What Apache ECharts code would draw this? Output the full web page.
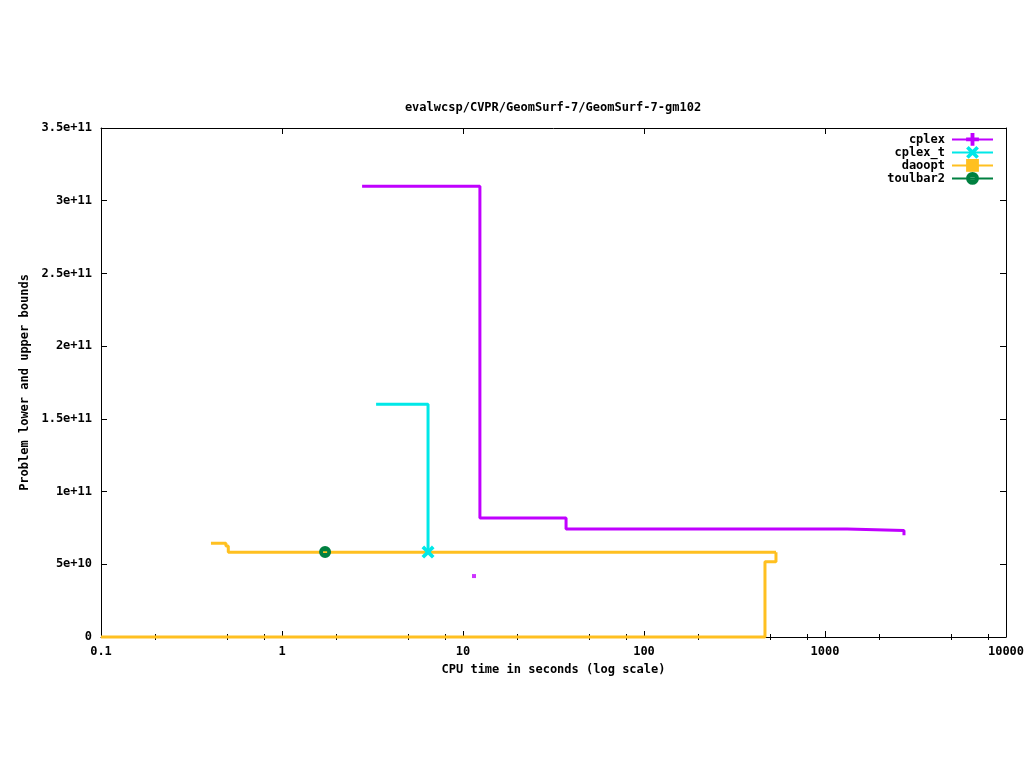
<!DOCTYPE html>
<html>
<head>
<meta charset="utf-8">
<script src="https://cdn.jsdelivr.net/npm/echarts@6/dist/echarts.min.js"></script>
<style>html,body{margin:0;padding:0;background:#fff;overflow:hidden}#c{width:1024px;height:768px}</style>
</head>
<body>
<div id="c"></div>
<script>
// ---- data ----
var titleText = 'evalwcsp/CVPR/GeomSurf-7/GeomSurf-7-gm102';
var xAxisName = 'CPU time in seconds (log scale)';
var yAxisName = 'Problem lower and upper bounds';
var xTickLabels = ['0.1', '1', '10', '100', '1000', '10000'];
var yTickLabels = ['0', '5e+10', '1e+11', '1.5e+11', '2e+11', '2.5e+11', '3e+11', '3.5e+11'];
var xMinorTicks = [0.2, 0.5, 0.8, 2, 5, 8, 20, 50, 80, 200, 500, 800, 2000, 5000, 8000];

var cplexTimes  = [2.77, 12.4, 37.1, 1324, 2731];
var cplexBounds = [3.10e11, 8.18e10, 7.42e10, 7.33e10, 7.0e10];
var cplexLowerTimes  = [11.5];
var cplexLowerBounds = [4.19e10];

var cplexTTimes  = [3.31, 6.41];
var cplexTBounds = [1.60e11, 5.84e10];

var daooptTimes  = [0.405, 0.49, 0.505, 536];
var daooptBounds = [6.44e10, 6.25e10, 5.83e10, 5.83e10];
var daooptLowerTimes  = [0.1, 466, 536];
var daooptLowerBounds = [0, 5.18e10, 5.83e10];

var toulbar2Times  = [1.73];
var toulbar2Bounds = [5.84e10];

// ---- styling ----
var FONT = 'DejaVu Sans Mono';
var colors = {cplex: '#c000ff', cplex_t: '#00e8e8', daoopt: '#ffc020', toulbar2: '#008040'};
var plusPath = 'path://M3.5,0H6.5V3.5H10V6.5H6.5V10H3.5V6.5H0V3.5H3.5Z';
var crossPath = 'path://M0,2L2,0L5,3L8,0L10,2L7,5L10,8L8,10L5,7L2,10L0,8L3,5Z';
var ringPath = 'path://M5,0A5,5,0,1,1,5,10A5,5,0,1,1,5,0ZM3.3,4.3V5.7H6.7V4.3Z';
var LW = 3;

function pairs(xs, ys, markLast) {
  return xs.map(function (x, i) {
    var item = {value: [x, ys[i]]};
    if (!(markLast && i === xs.length - 1)) item.symbol = 'none';
    return item;
  });
}

var chart = echarts.init(document.getElementById('c'), null, {renderer: 'canvas'});
var txt = {fontFamily: FONT, fontSize: 12, fontWeight: 'bold', color: '#000'};

function legendFor(name, top) {
  return {
    data: [name], right: 30, top: top, orient: 'vertical', align: 'right',
    itemWidth: 41, itemHeight: 16, padding: 0,
    textStyle: {fontFamily: FONT, fontSize: 12, fontWeight: 'bold', color: '#000', padding: [0, 2, 0, 0]},
    selectedMode: false
  };
}

var logAxisBase = {type: 'log', logBase: 10, min: 0.1, max: 10000, gridIndex: 0};

chart.setOption({
  animation: false,
  backgroundColor: '#fff',
  graphic: [{
    type: 'text', x: 553, y: 108, silent: true,
    style: {text: titleText, fontFamily: FONT, fontSize: 12, fontWeight: 'bold', fill: '#000',
            textAlign: 'center', textVerticalAlign: 'middle'}
  }],
  legend: [
    legendFor('cplex', 133),
    legendFor('cplex_t', 146),
    legendFor('daoopt', 159),
    legendFor('toulbar2', 172)
  ],
  grid: {left: 101, right: 18, top: 128, bottom: 131, containLabel: false, outerBoundsMode: 'none'},
  xAxis: [
    Object.assign({}, logAxisBase, {
      position: 'bottom',
      name: xAxisName, nameLocation: 'middle', nameGap: 27,
      nameTextStyle: txt,
      axisLine: {show: true, onZero: false, lineStyle: {color: '#000', width: 1}},
      axisTick: {show: true, inside: true, length: 6, lineStyle: {color: '#000'}},
      axisLabel: Object.assign({margin: 9, formatter: function (v) {
        var i = Math.round(Math.log10(v) + 1);
        return xTickLabels[i] !== undefined ? xTickLabels[i] : '';
      }}, txt),
      splitLine: {show: false}
    }),
    Object.assign({}, logAxisBase, {
      position: 'bottom',
      axisLine: {show: false},
      axisTick: {show: true, inside: true, length: 3, customValues: xMinorTicks, lineStyle: {color: '#000'}},
      axisLabel: {show: false}, splitLine: {show: false}
    }),
    Object.assign({}, logAxisBase, {
      position: 'top',
      axisLine: {show: true, onZero: false, lineStyle: {color: '#000', width: 1}},
      axisTick: {show: true, inside: true, length: 6, lineStyle: {color: '#000'}},
      axisLabel: {show: false}, splitLine: {show: false}
    }),
    Object.assign({}, logAxisBase, {
      position: 'top',
      axisLine: {show: false},
      axisTick: {show: true, inside: true, length: 3, customValues: xMinorTicks, lineStyle: {color: '#000'}},
      axisLabel: {show: false}, splitLine: {show: false}
    })
  ],
  yAxis: [
    {
      type: 'value', min: 0, max: 3.5e11, interval: 5e10, position: 'left',
      name: yAxisName, nameLocation: 'middle', nameGap: 70, nameRotate: 90,
      nameTextStyle: txt,
      axisLine: {show: true, onZero: false, lineStyle: {color: '#000', width: 1}},
      axisTick: {show: true, inside: true, length: 6, lineStyle: {color: '#000'}},
      axisLabel: Object.assign({margin: 9, formatter: function (v) {
        var i = Math.round(v / 5e10);
        return yTickLabels[i] !== undefined ? yTickLabels[i] : '';
      }}, txt),
      splitLine: {show: false}
    },
    {
      type: 'value', min: 0, max: 3.5e11, interval: 5e10, position: 'right',
      axisLine: {show: true, onZero: false, lineStyle: {color: '#000', width: 1}},
      axisTick: {show: true, inside: true, length: 6, lineStyle: {color: '#000'}},
      axisLabel: {show: false}, splitLine: {show: false}
    }
  ],
  series: [
    {
      name: 'cplex', type: 'line', step: 'end', xAxisIndex: 0, yAxisIndex: 0,
      data: pairs(cplexTimes, cplexBounds, false),
      symbol: plusPath, symbolSize: 12, showSymbol: true,
      lineStyle: {color: colors.cplex, width: LW}, itemStyle: {color: colors.cplex},
      clip: true, z: 2
    },
    {
      name: 'cplex_lb', type: 'scatter', xAxisIndex: 0, yAxisIndex: 0,
      data: cplexLowerTimes.map(function (x, i) { return [x, cplexLowerBounds[i]]; }),
      symbol: 'rect', symbolSize: 4, itemStyle: {color: colors.cplex}, silent: true, z: 2
    },
    {
      name: 'cplex_t', type: 'line', step: 'end', xAxisIndex: 0, yAxisIndex: 0,
      data: pairs(cplexTTimes, cplexTBounds, true),
      symbol: crossPath, symbolSize: 13, showSymbol: true,
      lineStyle: {color: colors.cplex_t, width: LW}, itemStyle: {color: colors.cplex_t},
      clip: true, z: 4
    },
    {
      name: 'daoopt', type: 'line', step: 'end', xAxisIndex: 0, yAxisIndex: 0,
      data: pairs(daooptTimes, daooptBounds, false),
      symbol: 'rect', symbolSize: 12, showSymbol: true,
      lineStyle: {color: colors.daoopt, width: LW}, itemStyle: {color: colors.daoopt},
      clip: true, z: 3
    },
    {
      name: 'daoopt_lb', type: 'line', step: 'end', xAxisIndex: 0, yAxisIndex: 0,
      data: pairs(daooptLowerTimes, daooptLowerBounds, false),
      symbol: 'none', showSymbol: false,
      lineStyle: {color: colors.daoopt, width: LW}, itemStyle: {color: colors.daoopt},
      clip: false, z: 3
    },
    {
      name: 'toulbar2', type: 'line', xAxisIndex: 0, yAxisIndex: 0,
      data: pairs(toulbar2Times, toulbar2Bounds, true),
      symbol: ringPath, symbolSize: 12, showSymbol: true,
      lineStyle: {color: colors.toulbar2, width: LW},
      itemStyle: {color: colors.toulbar2},
      z: 5
    }
  ]
});
</script>
</body>
</html>
